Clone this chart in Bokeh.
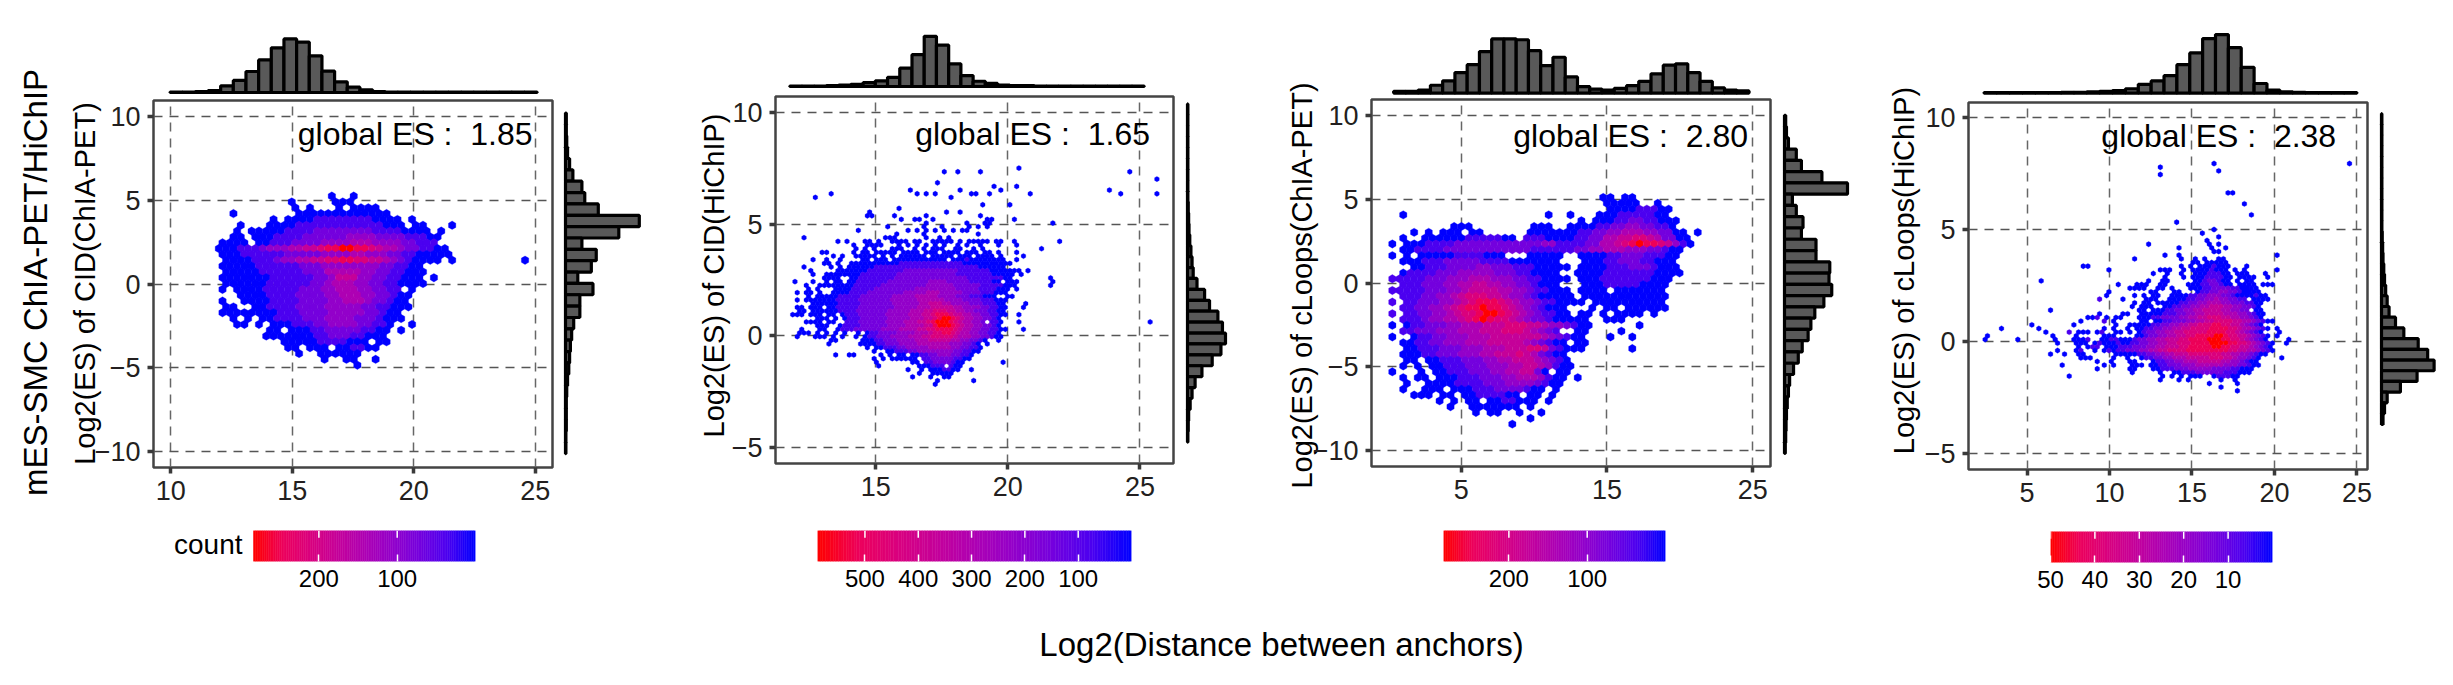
import math
from bokeh.plotting import figure
from bokeh.layouts import column, row
from bokeh.models import ColumnDataSource, Range1d, FixedTicker, LinearAxis, Label, LinearColorMapper
from bokeh.embed import file_html
from bokeh.resources import INLINE

FONT = "Liberation Sans"
BLACK = "#231f20"

# ---------- data ----------
OUTER_LABEL = "mES-SMC ChIA-PET/HiChIP"
X_LABEL = "Log2(Distance between anchors)"
Y_LABELS = ["Log2(ES) of CID(ChIA-PET)", "Log2(ES) of CID(HiChIP)", "Log2(ES) of cLoops(ChIA-PET)", "Log2(ES) of cLoops(HiChIP)"]
GLOBAL_ES = ["global ES :\u00a0 1.85", "global ES :\u00a0 1.65", "global ES :\u00a0 2.80", "global ES :\u00a0 2.38"]
X_TICKS = [[10, 15, 20, 25], [15, 20, 25], [5, 15, 25], [5, 10, 15, 20, 25]]
Y_TICKS = [[-10, -5, 0, 5, 10], [-5, 0, 5, 10], [-10, -5, 0, 5, 10], [-5, 0, 5, 10]]
COUNT_TICKS = [[200, 100], [500, 400, 300, 200, 100], [200, 100], [50, 40, 30, 20, 10]]
COUNT_MAX = [283.5, 589, 283.5, 50]

TOP1 = [1, 1, 2, 4, 15, 27, 47, 73, 100, 120, 113, 82, 48, 24, 12, 6, 2, 1, 1, 1, 1, 1, 1, 1, 1, 1, 1, 1, 1]
TOP2 = [1, 1, 1, 2, 3, 5, 9, 13, 21, 42, 73, 115, 95, 52, 25, 12, 7, 3, 2, 2, 1, 1, 1, 1, 1, 1, 1, 1, 1]
TOP3 = [4, 4, 7, 18, 28, 47, 65, 95, 124, 124, 122, 97, 63, 82, 37, 15, 9, 7, 11, 17, 27, 44, 64, 67, 47, 27, 12, 7, 5]
TOP4 = [1, 1, 1, 1, 1, 1, 2, 2, 3, 4, 6, 10, 20, 28, 40, 65, 92, 125, 134, 104, 59, 22, 7, 3, 2, 1, 1, 1, 1]
SIDE1 = [2, 2, 3, 5, 10, 18, 40, 47, 80, 180, 130, 40, 75, 63, 30, 67, 35, 35, 20, 15, 12, 10, 8, 5, 3, 2, 2, 2, 1, 1]
SIDE2 = [1, 1, 1, 1, 1, 1, 1, 1, 1, 2, 3, 4, 6, 9, 12, 15, 25, 45, 58, 80, 92, 100, 88, 65, 38, 20, 12, 7, 3, 2, 1]
SIDE3 = [3, 5, 10, 30, 43, 95, 160, 20, 30, 47, 43, 80, 80, 115, 113, 120, 100, 77, 67, 60, 45, 35, 23, 13, 10, 7, 5, 4, 3, 2]
SIDE4 = [1, 1, 1, 1, 1, 1, 1, 1, 1, 1, 1, 2, 3, 4, 6, 8, 11, 15, 20, 37, 59, 97, 122, 139, 94, 50, 15, 8, 4]

# Hexagon cells: each row is "column:levels ..." with levels 1 (lowest count) to 9 (highest).
HEX1 = [
 "16:1 19:1", "11:1 17:111", "11:1 13:1 17:1 19:1111", "3:1 12:1111111111111",
 "8:1 10:1111222222221111 27:1", "4:1 8:1111222222222222111 28:11 33:1",
 "3:1 5:11111222233333333222211 28:11 31:1", "3:11 6:11122223333334444333322211",
 "1:1111 6:1122233334444555444433222", "1:11122234445566788998876554332211",
 "1:11122222233333444455444332211111", "2:111122234455667788776654321111 33:1 43:1",
 "1:1111122222233344444444332211", "2:1111122222233355555443322111",
 "1:1111111222222334666443322111 30:1", "2:1111112222223345554433221111",
 "1:1 3:11112222233344555443322 27:1", "4:111122223333445554433211",
 "1:1 4:1 5:1112222333344555433211", "2:11 6:1122223333444443322111",
 "1:1111111122233334444433211", "3:1 5:1 7:11222233344443332111",
 "3:11 6:1 8:11122233444433221 27:1", "8:11 11:11122333332211 26:1",
 "7:11111112233322111", "10:111112222111 23:11", "10:11 13:111 17:112211",
 "12:1 15:111111", "15:1 18:11 22:1", "20:1",
]
HEX2 = [
 "51:1", "34:1 37:1 42:1 75:1", "", "81:1", "33:1", "45:1 50:1", "27:1 38:1 47:1 71:1",
 "9:1 28:1 30:1 32:1 40:11 44:1 53:1 73:1 81:1", "6:1 36:1", "", "43:1 49:1", "24:1",
 "18:1 35:1 38:1", "17:11 23:1 30:1 42:1", "25:1 28:11 32:1 44:11 50:1", "30:1 39:1 43:11 58:1",
 "22:1 30:1 34:1 40:1 42:1 44:1", "15:1 26:1 28:1 30:1 32:1 34:1 36:1 38:11", "24:1 30:1 42:1",
 "3:1 21:111 30:1 33:1 35:1",
 "11:1 13:1 17:11 20:1 23:1111 28:11 32:11111 38:1 40:11111 46:11 50:1 60:1",
 "14:1 17:1111 24:1 26:1 28:1 30:1 32:1 34:1 37:1 39:1 42:1 46:1 50:1",
 "15:1 17:1 19:1 23:11 25:1 28:1 30:1 32:111 37:11 41:1 43:1 56:1",
 "7:11 14:1 16:11 19:11 21:111 25:1111 30:111 34:1111 39:111 43:11 46:1 50:1",
 "10:1 12:1 15:11111 21:1 23:1 25:111111 32:11111 38:111 42:1111 47:1 52:1",
 "5:1 8:1 11:1 16:11 19:111 23:11111 28:1111111 36:1112 40:1111 44:1111 50:1",
 "8:11 11:1 14:11 16:111111111222222222222221111111111 49:1",
 "3:1 9:1 11:1 13:11111122222222222222222222222111111",
 "5:1 11:1111111222222223333333333332222222111111 51:1 53:1",
 "5:1 8:11 10:1111112222222233333333333332222222211111 51:1",
 "8:11 10:11 14:112222222233333333333333332222222211 58:1",
 "1:1 5:1 8:1 10:11 13:1122222223333333334444333332222211 48:11 50:1 58:1",
 "4:1 7:11 9:111111222222333333333344444433333322222111 58:1",
 "4:1 6:1 10:111122222333333333444444444333332222111 50:1",
 "2:1 4:11 7:1 10:111122223333333344444555444443333222111",
 "4:1 6:1111122222333333344444555554444333222111 48:1 49:1",
 "2:1 4:111 7:111122222333333344444455555544443333222111",
 "5:1 6:111112222233333334444445566655444433322211 52:1",
 "2:11 5:111 9:1122222333333334444455566666554444332211 52:1",
 "2:11 5:111 8:1 9:112222333333344444555667776655443332211",
 "1:111 5:111 9:11 12:1 13:222333333444445556678887665544332211 51:1",
 "6:111 10:1 12:1 13:222333333444445556678998765544 3321",
 "4:1111 9:11 13:22233333344445556678999876554 43 45:221 51:1 80:1",
 "6:111 11:1 12:22223333334444555566899987655443321",
 "3:1 7:11 11:12223333334444555566778888765544332211 52:1",
 "2:111 6:1 8:1 10:1 12:1 15:1 17:122333344445556778876554433221",
 "2:1 6:111 10:1 12:1 15:1 17:12233344445556677777655544 3321 47:1",
 "9:11 16:1 17:112233344445556666655443321 46:1",
 "9:1 16:11 18:1122333444455555554443321 44:1",
 "17:1 19:112223344444555554433221",
 "19:1 22:112223344444444332211",
 "10:1 13:11 20:1 22:1 24:11 27:11223344433221",
 "19:1 21:1 23:111 26:111 30:22333332211",
 "19:1 27:11 30:223333211 47:1",
 "20:1 29:1 30:11222 36:211",
 "26:1 29:1 31:1112211 40:1",
 "29:1 32:1 33:1111",
 "27:1 31:1 34:11",
 "33:1 41:1",
 "32:1",
]
HEX3 = [
 "29:11 32:11", "30:11111 37:1", "30:111122211", "2:1 22:1 25:1 29:1112222211",
 "26:1 28:111223322111", "9:111 20:111 25:111122334433221",
 "3:1 5:1 7:111 11:11 19:1111111223344555443311 42:1",
 "2:1 5:1111112222211 19:22211112233556677653311",
 "0:1 2:111222233333333333344222233556789887 6421",
 "2:112222333333333333222222334455544433211",
 "0:1 2:1 4:111112222111 19:11111 26:11112233322211",
 "2:1112223333322221111111 27:1112233322111",
 "3:1122233334433322211111 26:11112223332111",
 "2:1222233344444333221111 26:1 27:11122222221111",
 "0:22 2:22233344455544433221111 26:1112222222111",
 "2:2223334455665544332111 27:111222221111",
 "0:22 2:22233344566665544322111 26:1111 31:1111111",
 "2:222334456777665443211111 27:111111111111",
 "0:2 2:2233344567888765443221111 28:11 30:11111111",
 "2:22334456788988765432111 28:1 30:11 33:111111",
 "0:2 2:22334456778998765432211 26:11 29:1 31:1111 36:1",
 "2:22234455678987765433211111 30:111",
 "0:1 2:12233344555666777665443211 34:1",
 "2:2233344455566677765432 26:11 32:1",
 "0:1 3:122334445556666666543211 30:1 33:1",
 "2:11223344455566666543211 26:11",
 "2:1122233344455566677632111 33:1",
 "2:11122333444556667653211",
 "2:11 5:11222333445566654321",
 "2:1 4:1 6:11222333444556654211",
 "0:1 4:1 6:1122233344556631 23:11",
 "2:1 4:11 7:111222333445554211 26:1",
 "2:1 5:1111222233344443211",
 "2:1 5:111 9:1112223333211 23:1",
 "3:111 7:11 10:11222211 19:11 22:1",
 "7:1 9:1 11:11 14:1122111 22:1",
 "8:1 11:111 14:111 17:1 19:1",
 "12:1 14:11 18:1 21:1",
 "19:1", "17:1",
]
HEX4 = [
 "49:1 78:1", "37:1", "50:1", "37:1", "", "", "", "", "52:11", "", "", "55:1", "", "", "57:1", "",
 "41:1", "", "49:1", "46:1", "50:1", "47:1", "35:1 48:1 50:1", "41:1 48:1 51:1", "49:11",
 "38:1 41:1 62:1", "32:1 42:1 45:1 47:1 50:1 51:1", "44:11 47:11 49:111",
 "21:11 42:1 44:1 46:1112111 56:1",
 "26:1 37:1 38:11 42:1 44:11112111 53:1 55:1 62:1",
 "36:1 39:1 42:1 45:11122211 54:111 60:1",
 "38:1 42:1 44:111222211 54:1111 60:1",
 "12:1 35:1 38:11 45:11233211 54:1 56:11",
 "28:1 32:11 34:1 37:11 43:1112233211 54:1111 59:111",
 "31:1111 37:11 40:1 44:1112233332211 55:1111",
 "26:1 35:11 40:11 45:122334433211 55:1 56:111",
 "26:1 32:1 34:1 36:11 40:1111223344433211 55:111211",
 "24:2 29:1 34:11 36:1 39:11112233445443322 57:1111",
 "32:1 34:1 35:1 37:11111223344555443332211",
 "31:1 33:11 35:1 38:112233445566655443321",
 "14:1 33:11 36:111223344556666554433 58:11",
 "24:1 29:11 33:11 35:11122233445566665554 43211",
 "22:112 26:1 28:11 33:11 35:1223333445566777665544321",
 "20:1 25:2 27:1 33:11 36:1 37:122333445566777 7665543211",
 "10:1 19:1 28:1 31:11 33:11 35:1223344556677788776654321",
 "3:1 11:1 25:1 27:1 30:1 32:11223344556677778888776554321 62:1",
 "13:1 18:2 20:111 24:12 28:11 31:1 33:123344556677777888877654321 63:1",
 "0:1 14:1 19:1 25:111 32:11233445566778888998776654321 62:1",
 "0:1 7:1 15:1 19:1112 25:112211123344556667788889998877654321 65:1",
 "15:1 19:111 23:121112112233445566777888899998877654321 64:1",
 "20:1 22:122 26:111222333445566677888889988776654321",
 "15:1 19:12 23:1 25:1212233344556677778888888887766554321",
 "14:1 17:1 20:11 28:1111 32:12233445566677777776655443211",
 "20:111 27:1 30:1 33:12233445556666677766544321 63:1",
 "24:1 27:1 31:11 36:12233445556666655443211",
 "16:1 25:1 27:1 31:111 35:112233344455555544433211",
 "24:1 31:11 36:1122233344444333322111",
 "31:1 37:1 40:11222333333222111",
 "18:1 38:1 40:1 42:1 44:111 49:122211",
 "37:1 41:1 43:1 50:1 53:1",
 "48:1 54:1", "50:1", "54:1",
]

# ---------- layout of the page (page pixels) and the axes of each panel ----------
PANELS = [
 dict(band=(8, 690), strip=104, ylab=(84, 283), frame=(153, 552, 100, 467), xr=(9.29, 25.71), yr=(-10.94, 10.94),
      hexes=HEX1, x0=11.83, dx=0.30, odd=-0.15, y0=5.24, dy=0.3476, size=8.5,
      top=TOP1, tx=(9.97, 0.521), tb=(92, 38.4), side=SIDE1, sy=(10.19, 0.677), sb=(565, 638.8),
      bar=(253, 475, 530), cb_left=165, es=(24.89, 8.94)),
 dict(band=(690, 1280), strip=735, ylab=(713, 275), frame=(775, 1173, 96, 463), xr=(11.21, 26.27), yr=(-5.70, 10.70),
      hexes=HEX2, x0=11.69, dx=0.1712, odd=0.0856, y0=7.5, dy=0.1637, size=5.3,
      top=TOP2, tx=(11.75, 0.4625), tb=(86, 35.8), side=SIDE2, sy=(10.37, 0.4876), sb=(1187, 1225),
      bar=(817, 1131, 530), cb_left=817, es=(25.38, 9.02)),
 dict(band=(1280, 1870), strip=1322, ylab=(1301, 285), frame=(1371, 1770, 99, 466), xr=(-1.16, 26.22), yr=(-10.94, 10.94),
      hexes=HEX3, x0=0.27, dx=0.499, odd=-0.25, y0=5.1, dy=0.3465, size=8.4,
      top=TOP3, tx=(0.36, 0.841), tb=(92.6, 38.4), side=SIDE3, sy=(10.0, 0.672), sb=(1784, 1847),
      bar=(1443, 1665, 530), cb_left=1443, es=(24.68, 8.75)),
 dict(band=(1870, 2445), strip=1925, ylab=(1903.5, 270), frame=(1968, 2367, 102, 469), xr=(1.45, 25.64), yr=(-5.70, 10.68),
      hexes=HEX4, x0=2.459, dx=0.2832, odd=0.1416, y0=7.955, dy=0.1636, size=5.4,
      top=TOP4, tx=(2.385, 0.78), tb=(92.6, 34.1), side=SIDE4, sy=(10.18, 0.478), sb=(2381, 2433.6),
      bar=(2050, 2272, 531), cb_left=2050, es=(23.74, 9.19)),
]
OUTER_POS = (35, 282)
BOTTOM = 600
LEFT_ROOM = 72   # room left of each panel frame for the tick labels

STOPS = ["#0000FF", "#4B00F0", "#7400DE", "#9300CA", "#AE00B3", "#C5009A", "#DA007E", "#ED005A", "#FF0000"]

def build_palette(n=256):
    rgb = [tuple(int(c[i:i + 2], 16) for i in (1, 3, 5)) for c in STOPS]
    out = []
    for i in range(n):
        t = i / (n - 1) * (len(rgb) - 1)
        a = min(int(t), len(rgb) - 2)
        f = t - a
        out.append("#%02x%02x%02x" % tuple(round(rgb[a][j] + (rgb[a + 1][j] - rgb[a][j]) * f) for j in range(3)))
    return out

PALETTE = build_palette()

def cells(rows, x0, dx, odd, y0, dy, top):
    xs, ys, counts = [], [], []
    for r, line in enumerate(rows):
        for seg in line.split():
            if ":" in seg:
                k, digits = seg.split(":")
                k = int(k)
            else:
                digits = seg
            for ch in digits:
                xs.append(x0 + k * dx + (odd if r % 2 else 0))
                ys.append(y0 - r * dy)
                counts.append(top * (int(ch) - 1) / 8)
                k += 1
    return dict(x=xs, y=ys, count=counts)

def blank(fig):
    fig.xaxis.visible = False
    fig.yaxis.visible = False
    fig.xgrid.visible = False
    fig.ygrid.visible = False
    fig.outline_line_color = None
    fig.background_fill_color = None
    fig.border_fill_color = None

bands = []
for i, P in enumerate(PANELS):
    bl, br = P["band"]
    sr = P["strip"]
    fl, fr, ft, fb = P["frame"]
    col0 = fl - LEFT_ROOM
    split = fr + 6
    mapper = LinearColorMapper(palette=PALETTE, low=0, high=COUNT_MAX[i])

    # strip at the left that carries the rotated axis titles (its data units are page pixels);
    # it slides under the transparent left border of the panel column
    strip = figure(width=sr - bl, height=BOTTOM - 8, output_backend="svg", toolbar_location=None,
                   x_range=Range1d(bl, sr), y_range=Range1d(BOTTOM, 8),
                   min_border_left=0, min_border_right=0, min_border_top=0, min_border_bottom=0,
                   margin=(0, col0 - sr, 0, 0))
    blank(strip)
    strip.add_layout(Label(x=P["ylab"][0], y=P["ylab"][1], text=Y_LABELS[i], angle=math.pi / 2, text_align="center",
                           text_baseline="middle", text_font=FONT, text_font_size="29px", text_color="black"))
    if i == 0:
        strip.add_layout(Label(x=OUTER_POS[0], y=OUTER_POS[1], text=OUTER_LABEL, angle=math.pi / 2, text_align="center",
                               text_baseline="middle", text_font=FONT, text_font_size="33px", text_color="black"))

    # histogram above the panel
    top_h = ft - 4 - 8
    base, peak = P["tb"]
    vmax = max(P["top"])
    unit = vmax / (base - peak)
    t = figure(width=br - col0, height=top_h, output_backend="svg", toolbar_location=None,
               x_range=Range1d(*P["xr"]),
               y_range=Range1d(-(8 + top_h - base) * unit, (base - 8) * unit),
               min_border_left=fl - col0, min_border_right=br - fr, min_border_top=0, min_border_bottom=0)
    blank(t)
    st, w = P["tx"]
    t.quad(left=[st + j * w for j in range(len(P["top"]))], right=[st + (j + 1) * w for j in range(len(P["top"]))],
           bottom=0, top=P["top"], fill_color="#595959", line_color="black", line_width=3.2)

    # main panel
    bar_l, bar_r, bar_y = P["bar"]
    main_top = ft - 4
    main_bot = bar_y - 15
    m = figure(width=split - col0, height=main_bot - main_top, output_backend="svg", toolbar_location=None,
               x_range=Range1d(*P["xr"]), y_range=Range1d(*P["yr"]),
               min_border_left=fl - col0, min_border_right=split - fr, min_border_top=4,
               min_border_bottom=main_bot - fb, border_fill_color=None, background_fill_color="white")
    m.xaxis.ticker = FixedTicker(ticks=X_TICKS[i])
    m.yaxis.ticker = FixedTicker(ticks=Y_TICKS[i])
    for ax in (m.xaxis[0], m.yaxis[0]):
        ax.axis_line_color = None
        ax.major_tick_line_color = "#3a3a3a"
        ax.major_tick_line_width = 3.5
        ax.major_tick_in = 0
        ax.major_tick_out = 6
        ax.minor_tick_line_color = None
        ax.major_label_text_font = FONT
        ax.major_label_text_font_size = "27px"
        ax.major_label_text_color = BLACK
        ax.major_label_standoff = 7
    m.xgrid.grid_line_color = "#666666"
    m.ygrid.grid_line_color = "#555555"
    for g in (m.xgrid[0], m.ygrid[0]):
        g.grid_line_dash = "9 7"
        g.grid_line_width = 1.5
    m.outline_line_color = "#444444"
    m.outline_line_width = 2.5
    src = ColumnDataSource(cells(P["hexes"], P["x0"], P["dx"], P["odd"], P["y0"], P["dy"], COUNT_MAX[i]))
    hex_fill = {"field": "count", "transform": mapper}
    m.scatter("x", "y", source=src, marker="hex", angle=math.pi / 2, size=P["size"], line_color=hex_fill,
              line_width=0.3, fill_color=hex_fill)
    m.add_layout(Label(x=P["es"][0], y=P["es"][1], text=GLOBAL_ES[i], text_align="right", text_baseline="middle",
                       text_font=FONT, text_font_size="32px", text_color="black"))

    # histogram at the right of the panel
    sb0, sb1 = P["sb"]
    smax = max(P["side"])
    sunit = smax / (sb1 - sb0)
    s = figure(width=br - split, height=main_bot - main_top, output_backend="svg", toolbar_location=None,
               x_range=Range1d(-(sb0 - split) * sunit, (br - sb0) * sunit), y_range=Range1d(*P["yr"]),
               min_border_left=0, min_border_right=0, min_border_top=4, min_border_bottom=main_bot - fb)
    blank(s)
    sy0, sh = P["sy"]
    s.quad(left=0, right=P["side"], top=[sy0 - j * sh for j in range(len(P["side"]))],
           bottom=[sy0 - (j + 1) * sh for j in range(len(P["side"]))],
           fill_color="#595959", line_color="black", line_width=3.2)

    # colour bar (panel 1 keeps room inside its frame for the word "count")
    cb_left = P["cb_left"]
    per_px = COUNT_MAX[i] / (bar_r - bar_l)
    c = figure(width=br - col0, height=BOTTOM - main_bot, output_backend="svg", toolbar_location=None,
               x_range=Range1d(COUNT_MAX[i] + (bar_l - cb_left) * per_px, 0), y_range=Range1d(0, 1),
               min_border_left=cb_left - col0, min_border_right=br - bar_r, min_border_top=15,
               min_border_bottom=BOTTOM - main_bot - 15 - 31)
    blank(c)
    n = 120
    edges = [COUNT_MAX[i] * j / n for j in range(n + 1)]
    mids = [(edges[j] + edges[j + 1]) / 2 for j in range(n)]
    csrc = ColumnDataSource(dict(left=edges[:-1], right=edges[1:], v=mids))
    cfill = {"field": "v", "transform": mapper}
    c.quad(left="left", right="right", bottom=0, top=1, source=csrc, fill_color=cfill, line_color=cfill, line_width=0.5)
    c.segment(x0=COUNT_TICKS[i], x1=COUNT_TICKS[i], y0=[0.77] * len(COUNT_TICKS[i]), y1=[1] * len(COUNT_TICKS[i]),
              line_color="white", line_width=1.5)
    ax = LinearAxis(ticker=FixedTicker(ticks=COUNT_TICKS[i]), axis_line_color=None,
                    major_tick_line_color="white", major_tick_line_width=1.5, major_tick_in=7, major_tick_out=0,
                    minor_tick_line_color=None, major_label_text_font=FONT, major_label_standoff=8,
                    major_label_text_color="black", major_label_text_font_size="24px")
    c.add_layout(ax, "below")
    if i == 0:
        c.add_layout(Label(x=297.5, y=0.55, text="count", text_align="right", text_baseline="middle",
                           text_font=FONT, text_font_size="28px", text_color="black"))

    bands.append(row(strip, column(row(t), row(m, s, spacing=0), row(c), spacing=0), spacing=0))

# bottom title
b = figure(width=2437, height=70, output_backend="svg", toolbar_location=None,
           x_range=Range1d(8, 2445), y_range=Range1d(670, 600),
           min_border_left=0, min_border_right=0, min_border_top=0, min_border_bottom=0)
blank(b)
b.add_layout(Label(x=1281, y=644, text=X_LABEL, text_align="center", text_baseline="middle",
                   text_font=FONT, text_font_size="33px", text_color="black"))

page = column(row(*bands, spacing=0), b, spacing=0, margin=(8, 0, 0, 8))
open("out.html", "w").write(file_html(page, INLINE))
